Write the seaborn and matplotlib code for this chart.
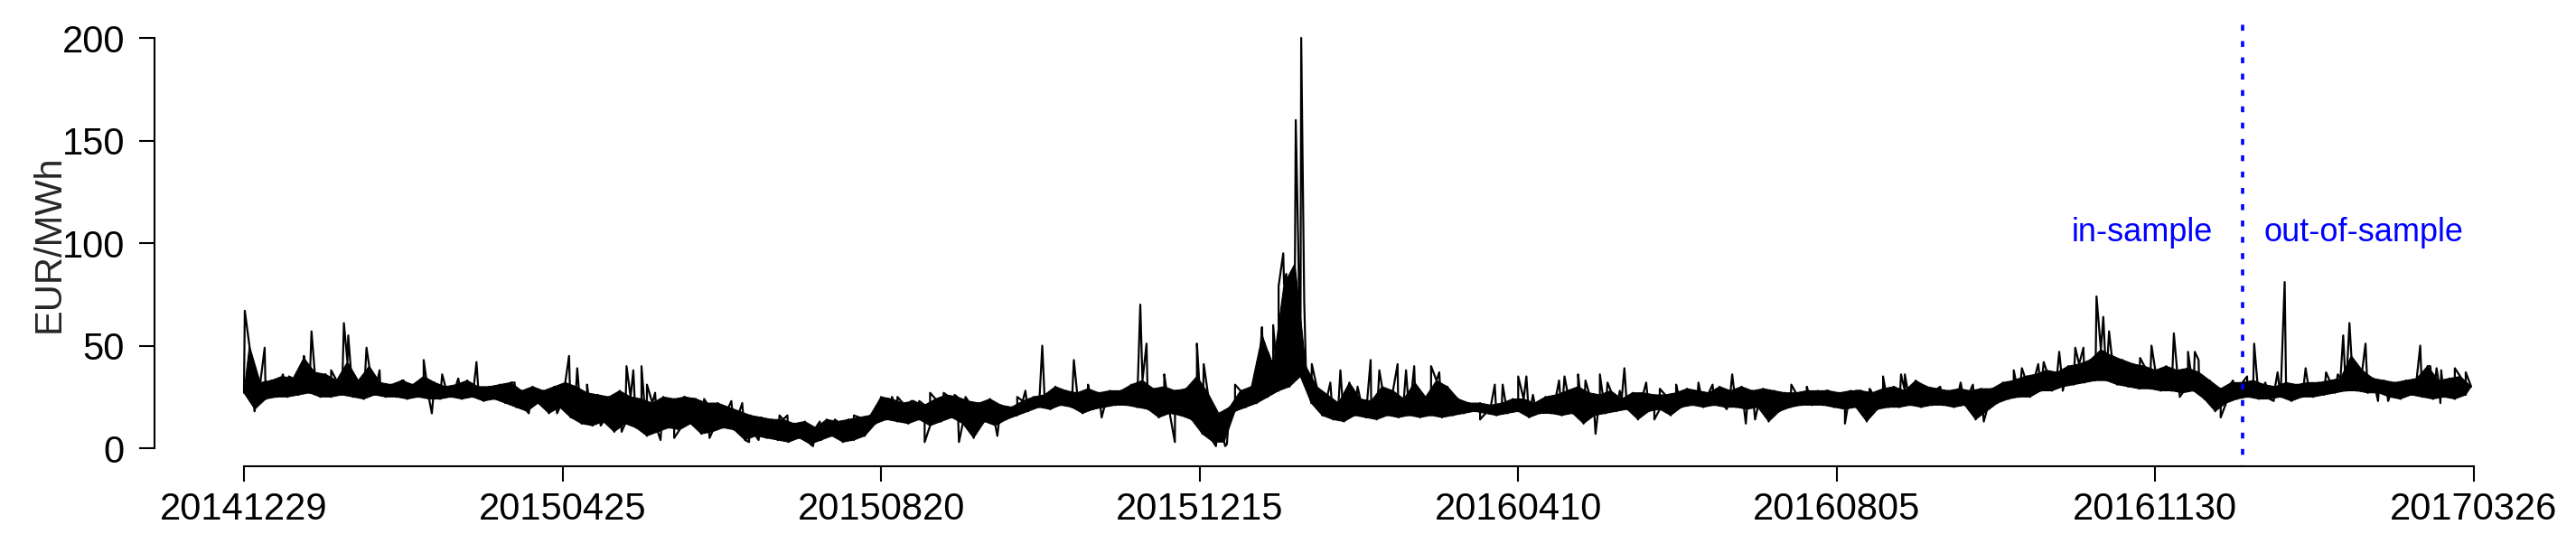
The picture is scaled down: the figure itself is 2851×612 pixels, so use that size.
import numpy as np
import pandas as pd
import matplotlib
matplotlib.use("Agg")
import matplotlib.pyplot as plt
import seaborn as sns

# ---------------- data ----------------
# price band: lower / upper envelope every 4 days, starting 2014-12-29
band_low = [
    27, 19, 24, 25, 25, 26, 27, 25, 25, 26,
    25, 24, 26, 25, 25, 24, 25, 24, 24, 25,
    24, 25, 23, 24, 22, 20, 18, 22, 17, 20,
    15, 12, 11, 13, 8, 12, 10, 6, 8, 10,
    9, 12, 7, 8, 10, 9, 4, 6, 5, 4,
    3, 5, 2, 4, 6, 3, 4, 6, 12, 14,
    13, 12, 14, 11, 13, 15, 12, 5, 13, 11,
    14, 16, 18, 20, 19, 21, 20, 17, 19, 20,
    21, 21, 20, 19, 15, 17, 16, 14, 7, 3,
    3, 18, 20, 22, 25, 28, 30, 35, 22, 16,
    14, 13, 16, 15, 14, 16, 15, 16, 15, 16,
    15, 16, 17, 18, 17, 16, 17, 18, 15, 17,
    17, 16, 17, 12, 16, 17, 18, 19, 14, 18,
    19, 16, 20, 21, 20, 21, 20, 20, 19, 20,
    13, 18, 20, 21, 21, 21, 20, 19, 20, 13,
    19, 20, 20, 21, 20, 21, 21, 20, 21, 14,
    18, 22, 24, 25, 25, 28, 28, 30, 31, 32,
    33, 33, 31, 30, 29, 29, 28, 28, 27, 28,
    24, 18, 22, 24, 25, 24, 24, 25, 23, 25,
    25, 26, 27, 28, 28, 27, 27, 25, 24, 26,
    25, 24, 25, 24, 26,
]
band_high = [
    50, 32, 33, 35, 34, 44, 37, 36, 33, 42,
    33, 40, 32, 31, 33, 31, 35, 32, 30, 31,
    33, 30, 30, 31, 32, 28, 30, 28, 30, 32,
    30, 27, 26, 25, 28, 25, 24, 22, 25, 24,
    25, 24, 22, 22, 20, 18, 16, 15, 14, 14,
    12, 13, 10, 14, 13, 14, 15, 16, 25, 24,
    22, 23, 21, 24, 26, 25, 23, 22, 24, 21,
    20, 23, 25, 26, 30, 28, 27, 29, 27, 28,
    28, 31, 33, 29, 30, 28, 29, 35, 27, 17,
    20, 28, 30, 55, 40, 80, 90, 40, 30, 26,
    22, 32, 24, 23, 30, 28, 24, 32, 25, 33,
    30, 24, 22, 22, 21, 22, 24, 24, 22, 25,
    26, 28, 30, 27, 26, 28, 24, 27, 27, 26,
    26, 27, 29, 28, 27, 30, 28, 30, 28, 29,
    28, 27, 27, 28, 28, 28, 27, 28, 28, 27,
    29, 30, 28, 33, 30, 29, 28, 29, 28, 29,
    29, 32, 33, 35, 36, 38, 37, 40, 41, 43,
    48, 45, 43, 41, 40, 38, 40, 38, 39, 37,
    33, 29, 32, 32, 33, 31, 30, 32, 31, 32,
    32, 33, 34, 45, 38, 34, 33, 32, 33, 34,
    40, 33, 34, 35, 30,
]
# large hourly extremes (day offset from 2014-12-29, EUR/MWh)
extreme_day = [0.3, 3.9, 7.6, 22, 24.8, 29.8, 32, 36.7, 38.3, 45, 49.8, 66,
               72.8, 85.4, 104.6, 115, 119.4, 122.4, 138.7, 140.5, 143, 146,
               293.2, 304.8, 329.2, 331.5, 338, 341.9, 350, 352.5, 357, 361,
               364, 373.9, 376, 378, 380, 381.7, 382.8, 386.3, 387.2, 388.3,
               389.4, 392.2, 399, 402.7, 413.8, 417, 423.7, 429.8, 436, 454,
               468, 471, 485, 490, 496.4, 498, 507, 546.6, 551.6, 555, 588,
               602, 610, 639, 680.4, 682.9, 685, 700.6, 708.8, 714, 716.5,
               726, 738.3, 749.5, 771, 773.3, 779.2, 799.3, 803, 807, 812]
extreme_val = [67, 18, 49, 45, 57, 36, 38, 61, 55, 49, 38, 43,
               36, 42, 17, 17, 45, 39, 8, 40, 38, 40,
               50, 43, 70, 51, 36, 3, 51, 41, 1, 2,
               31, 59, 47, 60, 79, 95, 85, 160, 100, 200,
               72, 41, 32, 38, 43, 38, 41, 40, 40, 14,
               35, 35, 35, 36, 7, 36, 39, 36, 12, 14, 12,
               35, 36, 13, 74, 64, 57, 50, 56, 47, 47,
               15, 51, 81, 55, 61, 51, 50, 40, 38, 39]
# smaller hourly peaks and troughs
minor_day = [14.3, 16.5, 41, 58.7, 69, 78.7, 99.4, 126, 131, 132, 148, 151,
             153, 158, 161.6, 164.6, 169, 171, 179, 183, 185.5, 189, 196.7,
             199.6, 209, 211.5, 217, 224, 238, 240, 245, 248, 250, 252, 257,
             261, 262.6, 265, 273, 276.7, 284, 287, 297.4, 310, 315, 324, 343,
             360.4, 409, 426.8, 439, 441.5, 446, 459.4, 462.3, 466, 473.4,
             483, 492.7, 500.8, 505.3, 515, 518, 520, 526, 534.2, 539.4,
             544.6, 556, 568.3, 574, 581, 592, 597.1, 615.6, 623, 630.5, 635,
             608.6, 616, 650, 653, 659, 661, 666.7, 668, 672.6, 675.6, 687.5,
             696.4, 705.3, 711, 717.9, 730.5, 735.7, 742.4, 745.5, 746.9,
             757.2, 764.7, 769, 783.8, 786.8, 787.5, 805.3, 806.7, 816]
minor_val = [36, 35, 32, 33, 17, 34, 32, 31, 11, 23, 31, 27,
             4, 5, 25, 24, 24, 5, 23, 22, 3, 4, 16,
             16, 1, 13, 14, 16, 25, 25, 23, 23, 3, 27, 27,
             26, 3, 25, 22, 6, 25, 28, 20, 31, 15, 28, 28,
             1, 30, 38, 37, 28, 23, 31, 31, 24, 26,
             33, 33, 32, 28, 32, 14, 29, 31, 32, 31,
             19, 20, 31, 30, 28, 28, 29, 28, 30, 32, 31,
             36, 31, 38, 39, 41, 42, 47, 28, 49, 49, 44,
             44, 39, 25, 43, 33, 35, 32, 23, 37,
             39, 37, 36, 23, 31, 23, 39, 22, 37]

tick_labels = ["20141229", "20150425", "20150820", "20151215",
               "20160410", "20160805", "20161130", "20170326"]
n_days = 819          # 2014-12-29 .. 2017-03-26
split_day = 734       # 2017-01-01: start of out-of-sample period

# ---------------- build series ----------------
step = 4
d_low = np.arange(len(band_low)) * step
d_high = d_low + step / 2
series = pd.DataFrame({
    "day": np.concatenate([d_low, d_high, extreme_day, minor_day]),
    "price": np.concatenate([band_low, band_high, extreme_val, minor_val]),
}).sort_values("day", kind="mergesort").reset_index(drop=True)

# ---------------- plot ----------------
sns.set_style("white")
plt.rcParams["font.family"] = ["Liberation Sans", "DejaVu Sans"]

W, H = 2851, 612
fig = plt.figure(figsize=(W / 100, H / 100), dpi=100)
ax = fig.add_axes([171.3 / W, 1 - 516 / H, (2836.7 - 171.3) / W, (516 - 23.4) / H])

# dense hourly band
ax.fill(np.concatenate([d_low, d_high[::-1]]),
        np.concatenate([band_low, band_high[::-1]]),
        color="black", lw=0.8)
sns.lineplot(data=series, x="day", y="price", color="black", lw=1.6,
             estimator=None, sort=False, ax=ax)

ax.axvline(split_day, color="#0000FF", lw=2.6, ls=(1.5, (1.8, 3.2)))
ax.annotate("in-sample", xy=(split_day, 105), xytext=(-24, 0),
            textcoords="offset points", ha="right", va="center",
            color="#0000FF", fontsize=26)
ax.annotate("out-of-sample", xy=(split_day, 105), xytext=(17, 0),
            textcoords="offset points", ha="left", va="center",
            color="#0000FF", fontsize=26)

ax.set_xlim(-0.04 * n_days, n_days * 1.04)
ax.set_ylim(-8.8, 208.2)
ax.set_xticks(np.linspace(0, n_days, len(tick_labels)))
ax.set_xticklabels(tick_labels)
ax.set_yticks([0, 50, 100, 150, 200])
ax.tick_params(axis="both", labelsize=30, length=12, width=1.5,
               color="black", labelcolor="black", direction="out",
               bottom=True, left=True)
ax.tick_params(axis="y", pad=12)
ax.tick_params(axis="x", pad=8)

for s in ["top", "right"]:
    ax.spines[s].set_visible(False)
for s in ["left", "bottom"]:
    ax.spines[s].set_linewidth(1.5)
    ax.spines[s].set_color("black")
ax.spines["left"].set_bounds(0, 200)
ax.spines["bottom"].set_bounds(0, n_days)

ax.set_xlabel("")
ax.set_ylabel("EUR/MWh", fontsize=30)
ax.yaxis.set_label_coords(-0.0364, 0.5)

fig.savefig("out.png", dpi=100, facecolor="white")
